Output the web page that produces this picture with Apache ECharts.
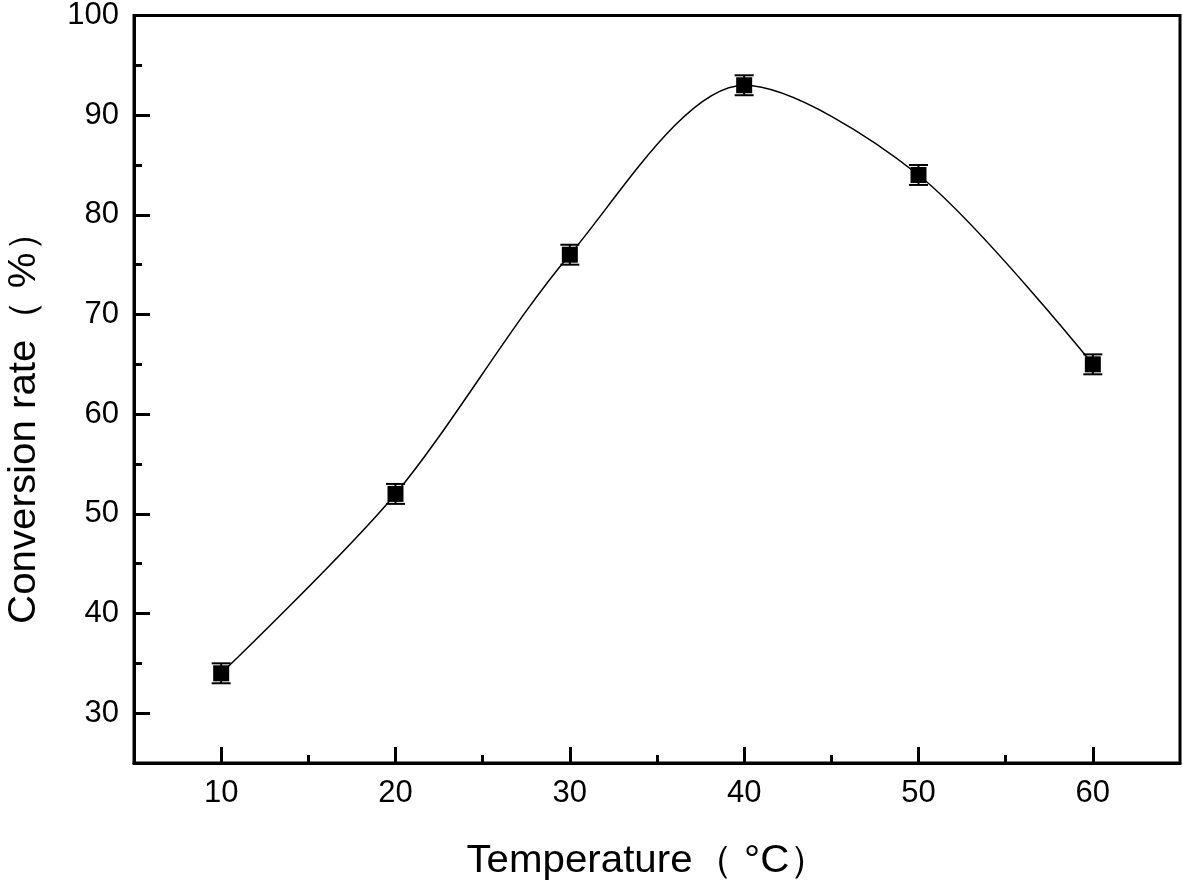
<!DOCTYPE html>
<html>
<head>
<meta charset="utf-8">
<script src="https://cdn.jsdelivr.net/npm/echarts@6/dist/echarts.min.js"></script>
<style>html,body{margin:0;padding:0;background:#fff;}#c{width:1183px;height:887px;}</style>
</head>
<body>
<div id="c"></div>
<script>
var temperatures = [10, 20, 30, 40, 50, 60];
var conversion = [34, 52, 76, 93, 84, 65];
var errors = [1, 1, 1, 1, 1, 1];
var xMajorTicks = [10, 20, 30, 40, 50, 60];
var xMinorTicks = [15, 25, 35, 45, 55];
var yMajorTicks = [30, 40, 50, 60, 70, 80, 90, 100];
var yMinorTicks = [35, 45, 55, 65, 75, 85, 95];
var xTitle = 'Temperature（ °C）';
var yTitle = 'Conversion rate（ %）';

var chart = echarts.init(document.getElementById('c'), null, {renderer: 'canvas'});
var font = 'Liberation Sans, Arial, sans-serif';
var pts = temperatures.map(function (t, i) { return [t, conversion[i]]; });
var errData = temperatures.map(function (t, i) { return [t, conversion[i], errors[i]]; });

function xAxisCfg(ticks, len, labels) {
  return {
    type: 'value', min: 5, max: 65, gridIndex: 0, position: 'bottom',
    axisLine: {show: labels, onZero: false, lineStyle: {color: '#000', width: 3}},
    splitLine: {show: false},
    axisTick: {show: true, inside: true, length: len, customValues: ticks, lineStyle: {color: '#000', width: 3}},
    axisLabel: {show: labels, customValues: ticks, color: '#000', fontSize: 31, fontFamily: font, margin: 15}
  };
}
function yAxisCfg(ticks, len, labels) {
  return {
    type: 'value', min: 25, max: 100, gridIndex: 0, position: 'left',
    axisLine: {show: labels, onZero: false, lineStyle: {color: '#000', width: 3}},
    splitLine: {show: false},
    axisTick: {show: true, inside: true, length: len, customValues: ticks, lineStyle: {color: '#000', width: 3}},
    axisLabel: {show: labels, customValues: ticks, color: '#000', fontSize: 31, fontFamily: font, margin: 15}
  };
}

chart.setOption({
  backgroundColor: '#fff',
  animation: false,
  grid: {left: 134, top: 14, right: 3, bottom: 124, show: true, borderColor: '#000', borderWidth: 3, backgroundColor: 'transparent'},
  xAxis: [xAxisCfg(xMajorTicks, 16, true), xAxisCfg(xMinorTicks, 8, false)],
  yAxis: [yAxisCfg(yMajorTicks, 16, true), yAxisCfg(yMinorTicks, 8, false)],
  graphic: [
    {type: 'text', x: 648, y: 862, scaleX: 1.06, style: {text: xTitle, fontSize: 38, fontFamily: font, fill: '#000', align: 'center', verticalAlign: 'middle'}},
    {type: 'text', x: 25, y: 418, rotation: Math.PI / 2, scaleX: 1.06, style: {text: yTitle, fontSize: 38, fontFamily: font, fill: '#000', align: 'center', verticalAlign: 'middle'}}
  ],
  series: [
    {
      type: 'line', data: pts, smooth: 0.3, xAxisIndex: 0, yAxisIndex: 0,
      lineStyle: {color: '#000', width: 1.5},
      symbol: 'rect', symbolSize: 16, itemStyle: {color: '#000'}, z: 3
    },
    {
      type: 'custom', data: errData, xAxisIndex: 0, yAxisIndex: 0, z: 4,
      renderItem: function (params, api) {
        var x = api.value(0), y = api.value(1), e = api.value(2);
        var hi = api.coord([x, y + e]);
        var lo = api.coord([x, y - e]);
        var hw = 9.5;
        var st = {stroke: '#000', lineWidth: 2};
        return {type: 'group', children: [
          {type: 'line', shape: {x1: hi[0], y1: hi[1], x2: lo[0], y2: lo[1]}, style: st},
          {type: 'line', shape: {x1: hi[0] - hw, y1: hi[1], x2: hi[0] + hw, y2: hi[1]}, style: st},
          {type: 'line', shape: {x1: lo[0] - hw, y1: lo[1], x2: lo[0] + hw, y2: lo[1]}, style: st}
        ]};
      }
    }
  ]
});
</script>
</body>
</html>
